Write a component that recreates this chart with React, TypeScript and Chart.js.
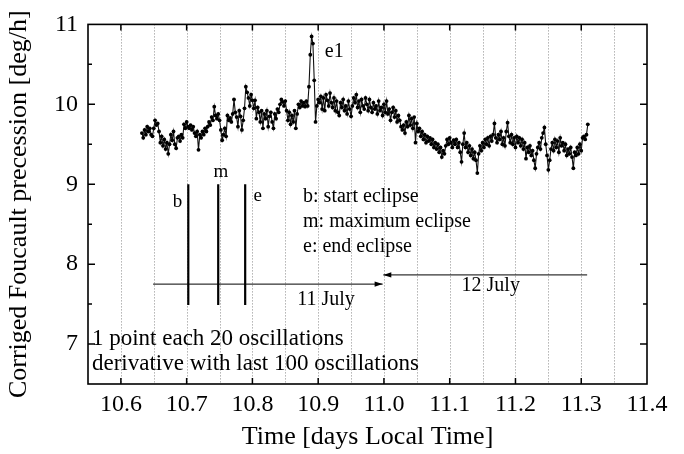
import { useEffect, useRef } from 'react';
import { Chart, registerables } from 'chart.js';

Chart.register(...registerables);

const SERIF = '"Liberation Serif", "Times New Roman", serif';

// sampling step of the precession series (days)
const DT = 0.002;

// segment start times (days local time) and precession values [deg/h]
const SEG_STARTS = [10.632, 10.682, 10.732, 10.782, 10.832, 10.882, 10.932, 10.982, 11.032, 11.082, 11.132, 11.182, 11.232, 11.282];

const SEG01 = [9.64, 9.58, 9.68, 9.62, 9.72, 9.66, 9.70, 9.62, 9.60, 9.70, 9.80, 9.74, 9.76, 9.66, 9.52, 9.60, 9.48, 9.56, 9.44, 9.52, 9.38, 9.50, 9.62, 9.55, 9.66];
const SEG02 = [9.50, 9.45, 9.58, 9.60, 9.54, 9.62, 9.58, 9.75, 9.70, 9.78, 9.72, 9.70, 9.74, 9.68, 9.72, 9.64, 9.60, 9.66, 9.43, 9.62, 9.58, 9.66, 9.62, 9.70, 9.66];
const SEG03 = [9.72, 9.78, 9.74, 9.84, 9.80, 9.97, 9.86, 9.82, 9.88, 9.80, 9.68, 9.55, 9.62, 9.70, 9.60, 9.86, 9.80, 9.83, 9.78, 9.88, 10.06, 9.90, 9.84, 9.72, 9.92];
const SEG04 = [9.85, 9.68, 9.80, 9.95, 10.22, 10.15, 10.08, 9.98, 10.12, 10.05, 9.95, 10.05, 9.82, 9.96, 9.90, 9.78, 9.92, 9.70, 9.88, 9.82, 9.92, 9.72, 9.85, 9.90, 9.78];
const SEG05 = [9.70, 9.88, 9.82, 9.94, 9.90, 10.00, 10.06, 10.03, 9.98, 10.04, 9.92, 9.80, 9.90, 9.75, 9.86, 9.78, 9.92, 9.70, 9.88, 10.00, 9.96, 10.04, 9.98, 10.02, 9.97];
const SEG06 = [10.04, 9.98, 10.22, 10.62, 10.85, 10.76, 10.30, 9.78, 9.98, 10.06, 10.02, 10.10, 9.94, 10.08, 9.92, 10.12, 10.05, 9.98, 10.14, 10.02, 9.96, 10.08, 9.92, 10.04, 9.90];
const SEG07 = [9.86, 10.02, 9.96, 10.06, 9.92, 9.98, 9.88, 10.04, 9.94, 9.85, 9.98, 10.08, 10.02, 10.12, 9.96, 10.04, 9.90, 10.06, 9.98, 9.94, 10.08, 10.00, 9.92, 10.06, 9.96];
const SEG08 = [9.90, 10.02, 9.94, 9.98, 9.88, 10.04, 9.92, 9.96, 9.86, 10.00, 9.90, 10.04, 9.88, 9.94, 9.80, 9.90, 9.96, 9.84, 9.92, 9.78, 9.86, 9.80, 9.72, 9.68, 9.74];
const SEG09 = [9.64, 9.78, 9.72, 9.86, 9.74, 9.82, 9.70, 9.84, 9.52, 9.76, 9.66, 9.70, 9.60, 9.66, 9.56, 9.62, 9.52, 9.60, 9.54, 9.58, 9.50, 9.56, 9.46, 9.52, 9.44];
const SEG10 = [9.50, 9.40, 9.46, 9.34, 9.42, 9.38, 9.48, 9.56, 9.50, 9.58, 9.52, 9.46, 9.55, 9.50, 9.56, 9.46, 9.52, 9.40, 9.28, 9.50, 9.64, 9.46, 9.52, 9.40, 9.48];
const SEG11 = [9.36, 9.44, 9.32, 9.40, 9.30, 9.14, 9.38, 9.48, 9.42, 9.52, 9.46, 9.56, 9.50, 9.58, 9.48, 9.60, 9.54, 9.62, 9.76, 9.58, 9.52, 9.62, 9.56, 9.66, 9.50];
const SEG12 = [9.58, 9.48, 9.66, 9.77, 9.60, 9.52, 9.62, 9.50, 9.58, 9.46, 9.60, 9.52, 9.58, 9.48, 9.56, 9.44, 9.52, 9.32, 9.46, 9.40, 9.48, 9.36, 9.42, 9.30, 9.20];
const SEG13 = [9.38, 9.46, 9.52, 9.44, 9.58, 9.64, 9.71, 9.50, 9.36, 9.18, 9.30, 9.44, 9.52, 9.42, 9.56, 9.46, 9.54, 9.40, 9.58, 9.48, 9.52, 9.42, 9.50, 9.36, 9.44];
const SEG14 = [9.38, 9.46, 9.34, 9.20, 9.40, 9.36, 9.46, 9.38, 9.50, 9.42, 9.58, 9.60, 9.56, 9.62, 9.75];

const SEGMENTS = [SEG01, SEG02, SEG03, SEG04, SEG05, SEG06, SEG07, SEG08, SEG09, SEG10, SEG11, SEG12, SEG13, SEG14];

// axes
const X_MIN = 10.55;
const X_MAX = 11.4;
const Y_MIN = 6.5;
const Y_MAX = 11;
const X_TICKS = [10.6, 10.7, 10.8, 10.9, 11.0, 11.1, 11.2, 11.3, 11.4];
const X_GRID = [10.6, 10.65, 10.7, 10.75, 10.8, 10.85, 10.9, 10.95, 11.0, 11.05, 11.1, 11.15, 11.2, 11.25, 11.3, 11.35];
const Y_TICKS = [7, 8, 9, 10, 11];
const Y_MINOR = [7.5, 8.5, 9.5, 10.5];

// eclipse markers: begin, maximum, end (days) and vertical extent
const ECLIPSE_TIMES = [10.7025, 10.748, 10.789];
const ECLIPSE_RANGE = [7.49, 9.0];

// date arrows: [tail, head]
const ARROW_11 = [[10.649, 7.75], [10.998, 7.75]];
const ARROW_12 = [[11.309, 7.865], [10.999, 7.865]];

// annotation texts anchored in data coordinates
const MARK_LABELS = [
  { text: 'b', x: 10.686, y: 8.713 },
  { text: 'm', x: 10.752, y: 9.092 },
  { text: 'e', x: 10.808, y: 8.786 },
];
const PEAK_LABEL = { text: 'e1', x: 10.91, y: 10.593 };
const LEGEND_LINES = [
  { text: 'b: start eclipse', x: 10.877, y: 8.774 },
  { text: 'm: maximum eclipse', x: 10.877, y: 8.464 },
  { text: 'e: end eclipse', x: 10.877, y: 8.158 },
];
const DATE_LABELS = [
  { text: '11 July', x: 10.868, y: 7.493 },
  { text: '12 July', x: 11.118, y: 7.669 },
];
const NOTE_LINES = [
  { text: '1 point each 20 oscillations', x: 10.556, y: 6.988 },
  { text: 'derivative with last 100 oscillations', x: 10.556, y: 6.67 },
];

function buildSeries() {
  const pts: { x: number; y: number }[] = [];
  SEGMENTS.forEach((seg, si) => {
    seg.forEach((v, i) => {
      pts.push({ x: +(SEG_STARTS[si] + i * DT).toFixed(4), y: v });
    });
  });
  return pts;
}

const decorPlugin = {
  id: 'decor',
  beforeDatasetsDraw(chart: any) {
    const { ctx, chartArea, scales } = chart;
    ctx.save();
    ctx.strokeStyle = '#8a8a8a';
    ctx.lineWidth = 1;
    ctx.setLineDash([1, 2]);
    X_GRID.forEach((v) => {
      const px = Math.round(scales.x.getPixelForValue(v)) + 0.5;
      ctx.beginPath();
      ctx.moveTo(px, chartArea.top);
      ctx.lineTo(px, chartArea.bottom);
      ctx.stroke();
    });
    ctx.restore();
  },
  afterDatasetsDraw(chart: any) {
    const { ctx, chartArea, scales } = chart;
    const xs = scales.x;
    const ys = scales.y;
    ctx.save();

    // arrow heads
    const head = (a: number[], b: number[]) => {
      const x1 = xs.getPixelForValue(a[0]);
      const y1 = ys.getPixelForValue(a[1]);
      const x2 = xs.getPixelForValue(b[0]);
      const y2 = ys.getPixelForValue(b[1]);
      const ang = Math.atan2(y2 - y1, x2 - x1);
      const L = 8;
      const W = 2.6;
      ctx.fillStyle = '#000';
      ctx.beginPath();
      ctx.moveTo(x2, y2);
      ctx.lineTo(x2 - L * Math.cos(ang) + W * Math.sin(ang), y2 - L * Math.sin(ang) - W * Math.cos(ang));
      ctx.lineTo(x2 - L * Math.cos(ang) - W * Math.sin(ang), y2 - L * Math.sin(ang) + W * Math.cos(ang));
      ctx.closePath();
      ctx.fill();
    };
    head(ARROW_11[0], ARROW_11[1]);
    head(ARROW_12[0], ARROW_12[1]);

    // texts
    ctx.fillStyle = '#000';
    ctx.textBaseline = 'alphabetic';
    const put = (items: { text: string; x: number; y: number }[], size: number, align: CanvasTextAlign) => {
      ctx.font = `${size}px ${SERIF}`;
      ctx.textAlign = align;
      items.forEach((it) => {
        ctx.fillText(it.text, xs.getPixelForValue(it.x), ys.getPixelForValue(it.y));
      });
    };
    put(MARK_LABELS, 19, 'center');
    put([PEAK_LABEL], 20, 'left');
    put(LEGEND_LINES, 20, 'left');
    put(DATE_LABELS, 20, 'left');
    put(NOTE_LINES, 23, 'left');

    // ticks (inward, all four sides)
    ctx.strokeStyle = '#000';
    ctx.lineWidth = 1.5;
    const { left, right, top, bottom } = chartArea;
    X_TICKS.forEach((v) => {
      const px = xs.getPixelForValue(v);
      if (px <= left + 1 || px >= right - 1) return;
      ctx.beginPath();
      ctx.moveTo(px, bottom);
      ctx.lineTo(px, bottom - 6);
      ctx.moveTo(px, top);
      ctx.lineTo(px, top + 6);
      ctx.stroke();
    });
    const yTick = (v: number, len: number) => {
      const py = ys.getPixelForValue(v);
      if (py <= top + 1 || py >= bottom - 1) return;
      ctx.beginPath();
      ctx.moveTo(left, py);
      ctx.lineTo(left + len, py);
      ctx.moveTo(right, py);
      ctx.lineTo(right - len, py);
      ctx.stroke();
    };
    Y_TICKS.forEach((v) => yTick(v, 7));
    Y_MINOR.forEach((v) => yTick(v, 4));

    // frame
    ctx.lineWidth = 1.6;
    ctx.strokeRect(left, top, right - left, bottom - top);
    ctx.restore();
  },
};

export default function App() {
  const ref = useRef<HTMLCanvasElement | null>(null);

  useEffect(() => {
    if (!ref.current) return;
    const series = buildSeries();
    const eclipseSets = ECLIPSE_TIMES.map((t) => ({
      data: [
        { x: t, y: ECLIPSE_RANGE[0] },
        { x: t, y: ECLIPSE_RANGE[1] },
      ],
      borderColor: '#000',
      borderWidth: 2.2,
      pointRadius: 0,
    }));
    const arrowSets = [ARROW_11, ARROW_12].map((a) => ({
      data: a.map((p) => ({ x: p[0], y: p[1] })),
      borderColor: '#000',
      borderWidth: 1,
      pointRadius: 0,
    }));

    const chart = new Chart(ref.current, {
      type: 'line',
      data: {
        datasets: [
          {
            data: series,
            borderColor: '#111',
            borderWidth: 1.1,
            pointRadius: 1.9,
            pointBackgroundColor: '#000',
            pointBorderWidth: 0,
            tension: 0,
          },
          ...eclipseSets,
          ...arrowSets,
        ] as any,
      },
      options: {
        animation: false,
        responsive: false,
        layout: { padding: { left: 0, top: 16, right: 37, bottom: 0 } },
        plugins: { legend: { display: false }, tooltip: { enabled: false } },
        scales: {
          x: {
            type: 'linear',
            min: X_MIN,
            max: X_MAX,
            grid: { display: false, drawTicks: false },
            border: { display: false },
            afterBuildTicks: (s: any) => {
              s.ticks = X_TICKS.map((value) => ({ value }));
            },
            afterFit: (s: any) => {
              s.height = 70;
            },
            ticks: {
              color: '#000',
              font: { family: SERIF, size: 24 },
              padding: 6,
              autoSkip: false,
              maxRotation: 0,
              callback: (v: any) => Number(v).toFixed(1),
            },
            title: {
              display: true,
              text: 'Time [days Local Time]',
              color: '#000',
              font: { family: SERIF, size: 26 },
              padding: { top: 0, bottom: 1 },
            },
          },
          y: {
            type: 'linear',
            min: Y_MIN,
            max: Y_MAX,
            grid: { display: false, drawTicks: false },
            border: { display: false },
            afterBuildTicks: (s: any) => {
              s.ticks = Y_TICKS.map((value) => ({ value }));
            },
            afterFit: (s: any) => {
              s.width = 88;
            },
            ticks: {
              color: '#000',
              font: { family: SERIF, size: 24 },
              padding: 10,
              autoSkip: false,
              callback: (v: any) => String(Number(v)),
            },
            title: {
              display: true,
              text: 'Corriged Foucault precession [deg/h]',
              color: '#000',
              font: { family: SERIF, size: 26 },
              padding: { top: 4, bottom: 0 },
            },
          },
        },
      } as any,
      plugins: [decorPlugin],
    });
    return () => chart.destroy();
  }, []);

  return (
    <div style={{ position: 'absolute', left: 0, top: 0, width: 684, height: 454, background: '#fff' }}>
      <canvas ref={ref} width={684} height={454} style={{ display: 'block' }} />
    </div>
  );
}
